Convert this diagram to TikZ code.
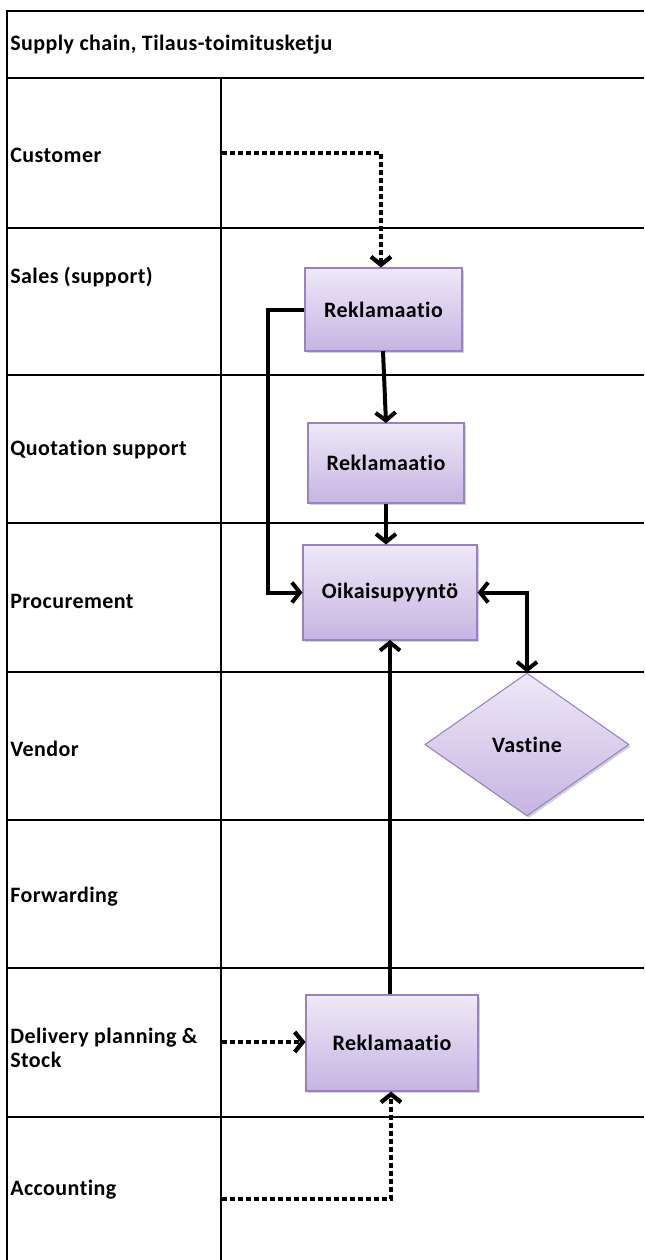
\documentclass[tikz,border=0pt]{standalone}
\usepackage{fontspec}
\setmainfont{Carlito}[Ligatures=NoCommon, LetterSpace=2]
\usetikzlibrary{arrows.meta,shapes.geometric,shadows}
\definecolor{boxtop}{HTML}{EEE9F7}
\definecolor{boxbot}{HTML}{C6B4E2}
\definecolor{boxborder}{HTML}{9A80C6}
\tikzset{
  lanerule/.style={line width=1.5pt},
  headrule/.style={line width=2.2pt},
  lanelabel/.style={anchor=west, font=\bfseries\fontsize{16.5}{19}\selectfont, align=left, inner sep=0pt},
  procbox/.style={rectangle, draw=boxborder, line width=0.8pt, top color=boxtop, bottom color=boxbot,
    font=\bfseries\fontsize{16.5}{19}\selectfont, inner sep=0pt,
    drop shadow={shadow xshift=1.5pt, shadow yshift=-1.5pt, fill=black!35, opacity=0.5}},
  decbox/.style={procbox, diamond},
  flowarrow/.style={line width=3pt, -{Straight Barb[length=6pt,width=15pt]}},
  bothflow/.style={line width=3pt, {Straight Barb[length=6pt,width=15pt]}-{Straight Barb[length=6pt,width=15pt]}},
  dotflow/.style={line width=3.2pt, dash pattern=on 3.5pt off 2.5pt, -{Straight Barb[length=6pt,width=15pt]}},
}
\begin{document}
\begin{tikzpicture}[x=0.75pt,y=-0.75pt]
\useasboundingbox (0,0) rectangle (644,1260);
% frame
\draw[lanerule] (7,1260) -- (7,11) -- (644,11);
\draw[headrule] (7,78) -- (644,78);
\foreach \yy in {228,375,523,672,820,968,1117}
  \draw[lanerule] (7,\yy) -- (644,\yy);
\draw[lanerule] (221,78) -- (221,1260);
% labels
\node[lanelabel] (title) at (10,45) {Supply chain, Tilaus-toimitusketju};
\node[lanelabel] (lcust) at (10,155) {Customer};
\node[lanelabel] (lsales) at (10,277) {Sales (support)};
\node[lanelabel] (lquot) at (10,450) {Quotation support};
\node[lanelabel] (lproc) at (10,601) {Procurement};
\node[lanelabel] (lvend) at (10,749) {Vendor};
\node[lanelabel] (lforw) at (10,897) {Forwarding};
\node[lanelabel] (ldeliv) at (10,1048) {Delivery planning \&\\[-1pt]Stock};
\node[lanelabel] (lacc) at (10,1190) {Accounting};
% process nodes
\node[procbox, minimum width=117.75pt, minimum height=62.25pt] (rek1) at (383.5,309.5) {Reklamaatio};
\node[procbox, minimum width=117pt, minimum height=60pt] (rek2) at (386,463) {Reklamaatio};
\node[procbox, minimum width=130.5pt, minimum height=71.25pt] (oik) at (390,592.5) {Oikaisupyyntö};
\node[decbox, minimum width=153pt, minimum height=107.25pt] (vast) at (527,744.5) {Vastine};
\node[procbox, minimum width=129pt, minimum height=72pt] (rek3) at (392,1043) {Reklamaatio};
% helper coordinates
\coordinate (custstart) at (222,153);
\coordinate (custturn) at (381,153);
\coordinate (delstart) at (222,1042);
\coordinate (accstart) at (222,1199);
\coordinate (accturn) at (391,1199);
% connectors
\draw[dotflow] (custstart) -- (custturn) -- (custturn |- rek1.north);
\draw[line width=3pt, -{Straight Barb[length=6pt,width=15pt]}] (rek1.west) -| (268,592.5) -- (oik.west);
\draw[flowarrow] (383,351) -- (386,423);
\draw[flowarrow] (rek2.south) -- (rek2.south |- oik.north);
\draw[bothflow] (oik.east) -| (vast.north);
\draw[flowarrow] (rek3.north -| 390,0) -- (390,640);
\draw[dotflow] (delstart) -- (rek3.west |- delstart);
\draw[dotflow] (accstart) -- (accturn) -- (accturn |- rek3.south);
\end{tikzpicture}
\end{document}
